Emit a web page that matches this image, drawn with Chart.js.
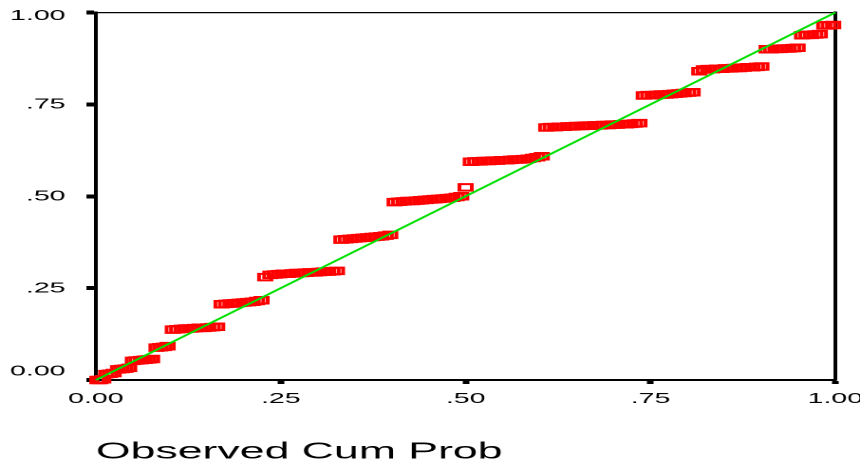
<!DOCTYPE html>
<html>
<head>
<meta charset="utf-8">
<title>Normal P-P Plot</title>
<script src="https://cdn.jsdelivr.net/npm/chart.js@4.4.1/dist/chart.umd.min.js"></script>
<style>
    html, body { margin: 0; padding: 0; background: #fff; overflow: hidden; }
    /* the original export is stretched sideways, so draw narrow and scale it out */
    #wrap {
        position: absolute; left: 0; top: 0;
        width: 453px; height: 466px;
        transform: scaleX(1.8985); transform-origin: 0 0;
    }
</style>
</head>
<body>
<div id="wrap"><canvas id="ppChart" width="453" height="466"></canvas></div>
<script>
// Observed cumulative probability (x) for each case
const observedCumProb = [
    0.002, 0.006, 0.010,
    0.014, 0.019, 0.024,
    0.030, 0.035, 0.040, 0.045,
    0.050, 0.055, 0.061, 0.066, 0.071, 0.076,
    0.082, 0.087, 0.092, 0.097,
    0.104, 0.110, 0.116, 0.122, 0.128, 0.134, 0.140, 0.146, 0.152, 0.158, 0.164,
    0.170, 0.176, 0.182, 0.188, 0.194, 0.200, 0.206, 0.212, 0.218, 0.224,
    0.229,
    0.236, 0.242, 0.248, 0.254, 0.260, 0.266, 0.272, 0.278, 0.284, 0.290, 0.296, 0.302, 0.308, 0.314, 0.320, 0.326,
    0.332, 0.338, 0.344, 0.350, 0.356, 0.362, 0.368, 0.374, 0.380, 0.386, 0.392, 0.398,
    0.404, 0.410, 0.416, 0.422, 0.428, 0.434, 0.440, 0.446, 0.452, 0.458, 0.464, 0.470, 0.476, 0.482, 0.488, 0.494,
    0.500,
    0.507, 0.513, 0.519, 0.525, 0.531, 0.537, 0.543, 0.549, 0.555, 0.561, 0.567, 0.573, 0.579, 0.585, 0.591, 0.597, 0.603,
    0.609, 0.615, 0.621, 0.627, 0.633, 0.639, 0.645, 0.651, 0.657, 0.663, 0.669, 0.675, 0.681, 0.687, 0.693, 0.699, 0.705, 0.711, 0.717, 0.723, 0.729, 0.735,
    0.741, 0.747, 0.753, 0.759, 0.765, 0.771, 0.777, 0.783, 0.789, 0.795, 0.801, 0.807,
    0.816,
    0.822, 0.828, 0.834, 0.840, 0.846, 0.852, 0.858, 0.864, 0.870, 0.876, 0.882, 0.888, 0.894, 0.900,
    0.907, 0.913, 0.919, 0.925, 0.931, 0.937, 0.943, 0.949,
    0.955, 0.961, 0.967, 0.973, 0.979,
    0.985, 0.991, 0.997
];

// Expected cumulative probability (y) for the same cases
const expectedCumProb = [
    0.000, 0.000, 0.002,
    0.016, 0.017, 0.019,
    0.029, 0.030, 0.031, 0.033,
    0.052, 0.053, 0.054, 0.055, 0.056, 0.057,
    0.088, 0.089, 0.090, 0.092,
    0.137, 0.138, 0.139, 0.140, 0.140, 0.141, 0.142, 0.142, 0.143, 0.144, 0.145,
    0.206, 0.207, 0.208, 0.209, 0.210, 0.211, 0.212, 0.213, 0.215, 0.217,
    0.280,
    0.286, 0.287, 0.288, 0.289, 0.289, 0.290, 0.291, 0.291, 0.292, 0.293, 0.293, 0.294, 0.295, 0.295, 0.296, 0.297,
    0.382, 0.383, 0.384, 0.385, 0.386, 0.387, 0.388, 0.389, 0.390, 0.391, 0.393, 0.395,
    0.484, 0.485, 0.486, 0.487, 0.487, 0.488, 0.489, 0.490, 0.491, 0.492, 0.493, 0.494, 0.495, 0.496, 0.498, 0.500,
    0.524,
    0.594, 0.595, 0.595, 0.596, 0.596, 0.597, 0.597, 0.598, 0.598, 0.599, 0.600, 0.600, 0.601, 0.602, 0.604, 0.606, 0.609,
    0.687, 0.688, 0.688, 0.689, 0.689, 0.690, 0.690, 0.691, 0.691, 0.692, 0.692, 0.693, 0.693, 0.694, 0.694, 0.695, 0.695, 0.696, 0.696, 0.697, 0.698, 0.699,
    0.774, 0.775, 0.775, 0.776, 0.777, 0.777, 0.778, 0.779, 0.780, 0.781, 0.782, 0.783,
    0.840,
    0.845, 0.846, 0.846, 0.847, 0.847, 0.848, 0.848, 0.849, 0.849, 0.850, 0.851, 0.851, 0.852, 0.853,
    0.900, 0.900, 0.901, 0.901, 0.902, 0.902, 0.903, 0.904,
    0.938, 0.939, 0.939, 0.940, 0.941,
    0.965, 0.965, 0.966
];

// Reference diagonal
const diagonalX = [0, 1];
const diagonalY = [0, 1];

// Tick labels as printed by SPSS
const tickValues = [0, 0.25, 0.5, 0.75, 1];
const tickLabels = ['0.00', '.25', '.50', '.75', '1.00'];

const axisTitle = 'Observed Cum Prob';

const FONT = 'Arial, "Liberation Sans", Helvetica, sans-serif';

function labelFor(value) {
    const i = tickValues.findIndex(v => Math.abs(v - value) < 1e-6);
    return i >= 0 ? tickLabels[i] : '';
}

// keep the plot box fixed: no extra room for overhanging end labels
function noEdgePadding(scale) {
    scale.paddingLeft = 0;
    scale.paddingRight = 0;
    scale.paddingTop = 0;
    scale.paddingBottom = 0;
}

const points = observedCumProb.map((x, i) => ({ x: x, y: expectedCumProb[i] }));
const diagonal = diagonalX.map((x, i) => ({ x: x, y: diagonalY[i] }));

const ctx = document.getElementById('ppChart').getContext('2d');

new Chart(ctx, {
    type: 'scatter',
    data: {
        datasets: [{
            label: 'Diagonal',
            data: diagonal,
            showLine: true,
            borderColor: '#00e000',
            borderWidth: 1.6,
            pointRadius: 0,
            order: 0,
            clip: false
        }, {
            label: 'Cases',
            data: points,
            pointStyle: 'rect',
            pointRadius: 4.6,
            pointBorderWidth: 2,
            pointBorderColor: '#ff0000',
            pointBackgroundColor: 'rgba(0,0,0,0)',
            order: 1,
            clip: false
        }]
    },
    options: {
        responsive: false,
        maintainAspectRatio: false,
        devicePixelRatio: 2,
        animation: false,
        events: [],
        layout: {
            padding: { top: 12.5, right: 13, bottom: 0, left: 0 }
        },
        plugins: {
            legend: { display: false },
            tooltip: { enabled: false }
        },
        scales: {
            x: {
                type: 'linear',
                position: 'bottom',
                min: 0,
                max: 1,
                afterFit: function(scale) { scale.height = 86; noEdgePadding(scale); },
                afterBuildTicks: function(scale) {
                    scale.ticks = tickValues.map(v => ({ value: v }));
                },
                border: { display: true, color: '#000', width: 2 },
                grid: {
                    display: true,
                    drawOnChartArea: false,
                    drawTicks: true,
                    tickLength: 4,
                    tickWidth: 3.5,
                    tickColor: '#000'
                },
                ticks: {
                    padding: 6,
                    maxRotation: 0,
                    autoSkip: false,
                    color: '#000',
                    font: { family: FONT, size: 15 },
                    callback: function(value) { return labelFor(value); }
                },
                title: {
                    display: true,
                    text: axisTitle,
                    align: 'start',
                    color: '#000',
                    font: { family: FONT, size: 23.5 },
                    padding: { top: 0, bottom: 0 }
                }
            },
            y: {
                type: 'linear',
                position: 'left',
                min: 0,
                max: 1,
                afterFit: function(scale) { scale.width = 50.5; noEdgePadding(scale); },
                afterBuildTicks: function(scale) {
                    scale.ticks = tickValues.map(v => ({ value: v }));
                },
                border: { display: true, color: '#000', width: 2 },
                grid: {
                    display: true,
                    drawOnChartArea: false,
                    drawTicks: true,
                    tickLength: 5,
                    tickWidth: 4,
                    tickColor: '#000'
                },
                ticks: {
                    padding: 11,
                    autoSkip: false,
                    color: '#000',
                    // end labels sit a little inside their ticks, like the original
                    font: function(c) {
                        const v = c.tick ? c.tick.value : null;
                        return { family: FONT, size: 15, lineHeight: v === 1 ? '7px' : '17px' };
                    },
                    callback: function(value) {
                        const text = labelFor(value);
                        if (value === 0) return [text, ''];
                        if (value === 1) return ['', text];
                        return text;
                    }
                }
            },
            // frame lines on the top and right of the plot
            xTop: {
                type: 'linear',
                axis: 'x',
                position: 'top',
                min: 0,
                max: 1,
                afterFit: function(scale) { scale.height = 0; noEdgePadding(scale); },
                border: { display: true, color: '#000', width: 1.2 },
                grid: { display: false },
                ticks: { display: false }
            },
            yRight: {
                type: 'linear',
                axis: 'y',
                position: 'right',
                min: 0,
                max: 1,
                afterFit: function(scale) { scale.width = 0; noEdgePadding(scale); },
                border: { display: true, color: '#000', width: 2 },
                grid: { display: false },
                ticks: { display: false }
            }
        }
    }
});
</script>
</body>
</html>
